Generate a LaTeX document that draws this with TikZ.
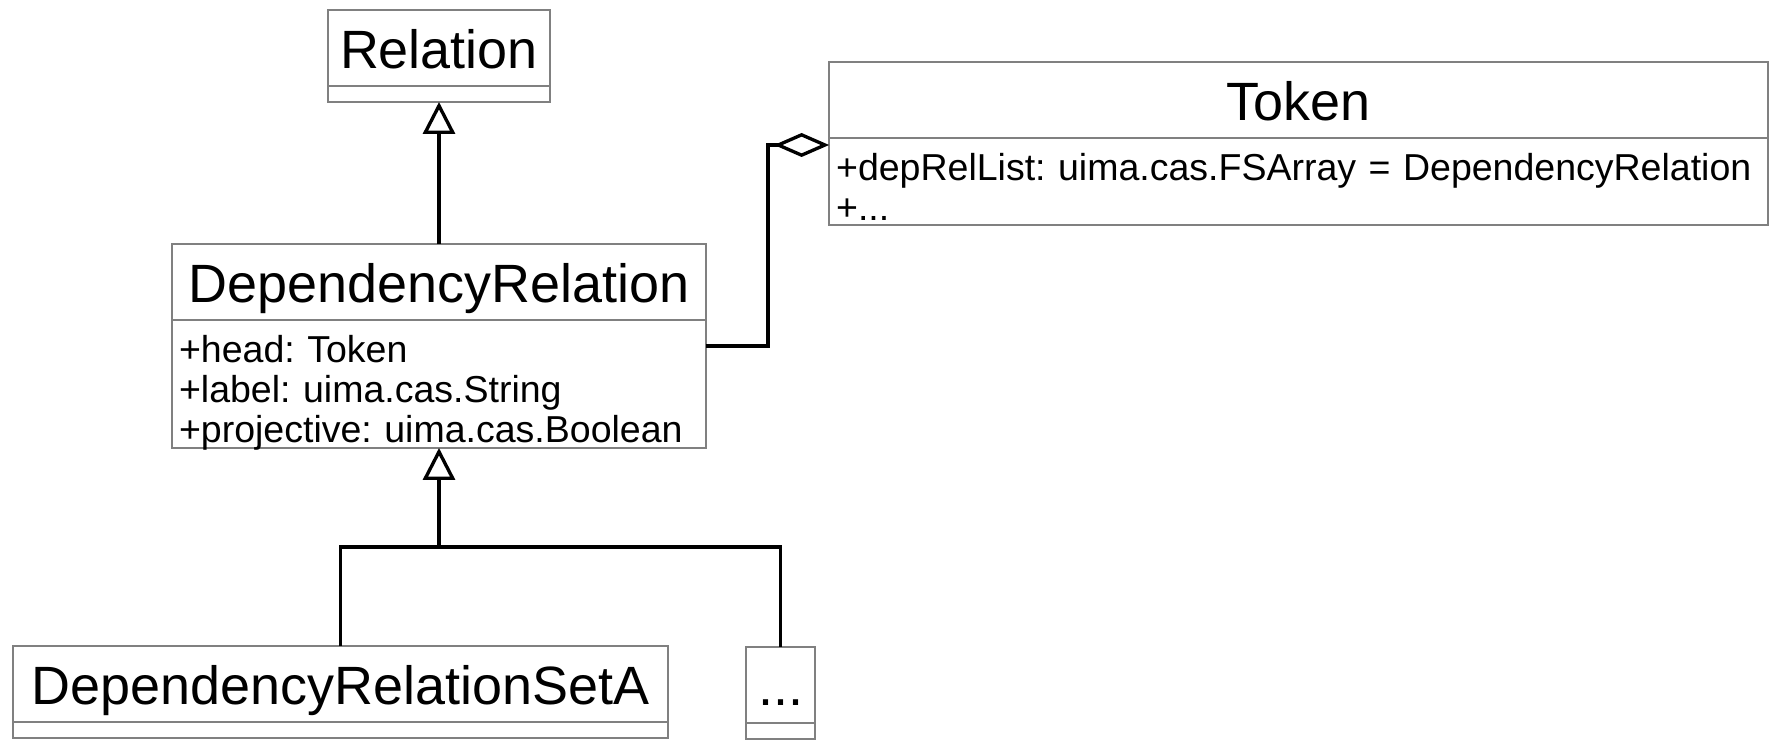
\documentclass[tikz,border=0pt]{standalone}
\usepackage{fontspec}
\setmainfont{Liberation Sans}
\usetikzlibrary{arrows.meta,positioning}
\frenchspacing

\newcommand{\clsnamefont}{\fontsize{30.7pt}{36pt}\selectfont}
\newcommand{\clsattrfont}{\fontsize{21.35pt}{22.76pt}\selectfont}

\tikzset{
  clsname/.style={draw=gray, line width=1.3pt, outer sep=0pt, inner sep=0pt,
    minimum height=1.52cm, text height=0.82cm, text depth=0pt, font=\clsnamefont},
  clsattr/.style={draw=gray, line width=1.3pt, outer sep=0pt, inner xsep=0.14cm,
    inner ysep=0pt, text height=0.85cm, align=left, font=\clsattrfont},
  clsempty/.style={draw=gray, line width=1.3pt, outer sep=0pt, inner sep=0pt,
    minimum height=0.32cm},
  link/.style={line width=1.9pt},
  inherit/.style={link, -{Triangle[open,length=0.64cm,width=0.64cm]}},
  aggr/.style={link, -{Diamond[open,length=1.1cm,width=0.48cm]}},
}

\begin{document}
\begin{tikzpicture}[x=0.02cm, y=-0.02cm]
\useasboundingbox (0,0) rectangle (1775,741);

% classes
\node[clsname, minimum width=4.44cm] (relname) at (439,48) {Relation};
\node[clsempty, minimum width=4.44cm, below=0pt of relname] (relattr) {};

\node[clsname, minimum width=10.68cm] (drname) at (439,282) {DependencyRelation};
\node[clsattr, text width=10.4cm, text depth=1.71cm, below=0pt of drname] (drattr)
  {+head: Token\\+label: uima.cas.String\\+projective: uima.cas.Boolean};

\node[clsname, minimum width=18.78cm] (tokname) at (1298.5,100) {Token};
\node[clsattr, text width=18.5cm, text depth=0.89cm, below=0pt of tokname] (tokattr)
  {+depRelList: uima.cas.FSArray = DependencyRelation\\+...};

\node[clsname, minimum width=13.1cm] (setaname) at (340.5,684) {DependencyRelationSetA};
\node[clsempty, minimum width=13.1cm, below=0pt of setaname] (setaattr) {};

\node[clsname, minimum width=1.38cm] (morename) at (780.5,685) {...};
\node[clsempty, minimum width=1.38cm, below=0pt of morename] (moreattr) {};

% connectors
\coordinate (fork) at (drattr.south |- 0,547);
\coordinate (aggfrom) at ([yshift=-0.52cm]drattr.north east);
\coordinate (aggto) at ([yshift=-0.14cm]tokattr.north west);

\draw[inherit] (drname.north) -- (relattr.south);
\draw[inherit] (fork) -- (drattr.south);
\draw[link] (setaname.north) |- (fork);
\draw[link] (morename.north) |- (fork);
\draw[aggr] (aggfrom) -- ++(62,0) |- (aggto);

\end{tikzpicture}
\end{document}
